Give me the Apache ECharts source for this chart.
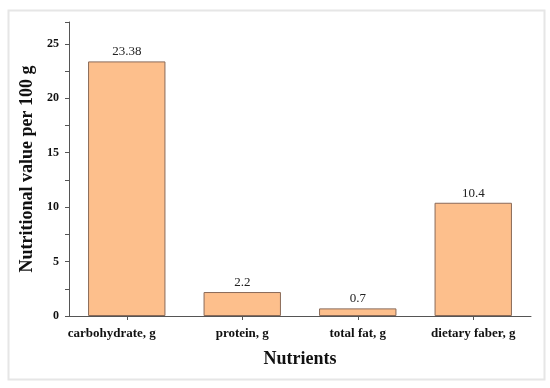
<!DOCTYPE html>
<html><head><meta charset="utf-8">
<script src="https://cdn.jsdelivr.net/npm/echarts@6/dist/echarts.min.js"></script>
<style>html,body{margin:0;padding:0;background:#fff}#c{width:550px;height:388px}</style>
</head><body><div id="c"></div>
<script>
var categories = ['carbohydrate, g', 'protein, g', 'total fat, g', 'dietary faber, g'];
var values = [23.38, 2.2, 0.7, 10.4];
var valueLabels = ['23.38', '2.2', '0.7', '10.4'];
var yTicks = [0, 5, 10, 15, 20, 25];

var serif = '"Liberation Serif", "DejaVu Serif", serif';
var chart = echarts.init(document.getElementById('c'), null, {renderer: 'canvas'});
chart.setOption({
  animation: false,
  backgroundColor: '#fff',
  graphic: [{
    type: 'rect', left: 6, top: 8,
    shape: {width: 536, height: 369},
    style: {fill: 'none', stroke: '#e6e6e6', lineWidth: 2}, silent: true
  }],
  grid: {left: 69, right: 19, top: 22, bottom: 72},
  xAxis: {
    type: 'category',
    data: categories,
    name: 'Nutrients',
    nameLocation: 'middle',
    nameGap: 34,
    nameTextStyle: {fontFamily: serif, fontWeight: 'bold', fontSize: 18, color: '#111'},
    axisLine: {lineStyle: {color: '#555', width: 1}},
    axisTick: {show: true, alignWithLabel: true, length: 4, lineStyle: {color: '#555'}},
    axisLabel: {
      interval: 0, hideOverlap: false,
      fontFamily: serif, fontWeight: 'bold', fontSize: 13, color: '#111', margin: 11,
      formatter: function (v, i) { return i === 0 ? '{a|' + v + '}' : v; },
      rich: {a: {fontFamily: serif, fontWeight: 'bold', fontSize: 13, color: '#111', padding: [0, 30, 0, 0]}}
    }
  },
  yAxis: {
    type: 'value',
    min: 0, max: 27, interval: 5,
    name: 'Nutritional value per 100 g',
    nameLocation: 'middle',
    nameGap: 31,
    nameTextStyle: {fontFamily: serif, fontWeight: 'bold', fontSize: 18, color: '#111'},
    axisLine: {show: true, lineStyle: {color: '#555', width: 1}},
    axisTick: {show: true, length: 4, lineStyle: {color: '#555'}},
    minorTick: {show: true, splitNumber: 2, length: 4, lineStyle: {color: '#555'}},
    splitLine: {show: false},
    axisLabel: {
      fontFamily: serif, fontWeight: 'bold', fontSize: 12, color: '#111', margin: 10,
      formatter: function (v) { return yTicks.indexOf(v) >= 0 ? String(v) : ''; }
    }
  },
  series: [{
    type: 'bar',
    data: values,
    barWidth: '67%',
    itemStyle: {color: '#FDBF8C', borderColor: '#8a6a58', borderWidth: 1},
    label: {
      show: true, position: 'top', distance: 3,
      fontFamily: serif, fontSize: 13, color: '#222',
      formatter: function (p) { return valueLabels[p.dataIndex]; }
    }
  }]
});
</script></body></html>
